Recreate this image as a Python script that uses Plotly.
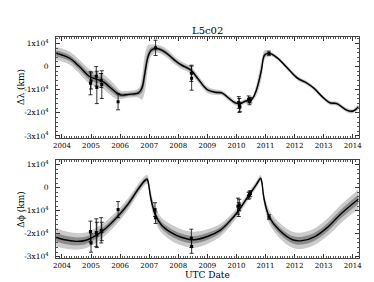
import plotly.graph_objects as go

# ---- data (km) ----
lam_t = [2003.8, 2004.0, 2004.27, 2004.6, 2004.95, 2005.17, 2005.4, 2005.62, 2005.85, 2006.02,
         2006.3, 2006.63, 2006.75, 2006.85, 2006.96, 2007.07, 2007.25, 2007.53, 2007.87, 2008.1,
         2008.43, 2008.66, 2009.0, 2009.28, 2009.5, 2009.73, 2009.96, 2010.13, 2010.3, 2010.52,
         2010.69, 2010.86, 2010.97, 2011.14, 2011.42, 2011.76, 2012.1, 2012.43, 2012.66, 2013.0,
         2013.22, 2013.45, 2013.79, 2014.0, 2014.2]
lam_v = [5700, 5000, 3600, 0, -4300, -5400, -6400, -8600, -11100, -12300,
         -12000, -11400, -9300, -2900, 4300, 7100, 7800, 6400, 2800, 700,
         -1500, -5000, -10000, -11100, -11400, -13600, -15700, -16000, -15000, -14300,
         -10000, -1500, 5000, 5700, 3600, -700, -5000, -7200, -9300, -13600,
         -15700, -16000, -18800, -19300, -17400]
lam_outer = [2800, 2800, 2800, 3000, 3200, 3200, 3200, 3200, 2800, 1800,
             1500, 2000, 5000, 8000, 5000, 2500, 1800, 1800, 1700, 1600,
             1600, 1600, 1400, 1200, 1100, 1100, 1100, 1000, 1000, 1000,
             2500, 4000, 2000, 900, 900, 900, 900, 900, 900, 900,
             900, 900, 900, 900, 1200]
lam_inner = [1300, 1300, 1300, 1400, 1500, 1500, 1500, 1500, 1300, 900,
             700, 900, 2000, 3500, 2000, 1100, 800, 800, 800, 700,
             700, 700, 600, 500, 500, 500, 500, 450, 450, 450,
             1000, 1500, 800, 450, 450, 450, 450, 450, 450, 450,
             450, 450, 450, 450, 550]

phi_t = [2003.8, 2004.05, 2004.5, 2004.83, 2005.17, 2005.5, 2005.95, 2006.28, 2006.62, 2006.84,
         2006.93, 2006.98, 2007.05, 2007.2, 2007.42, 2007.76, 2008.1, 2008.54, 2009.0, 2009.45,
         2009.9, 2010.12, 2010.46, 2010.69, 2010.83, 2010.88, 2010.94, 2011.13, 2011.47, 2011.93,
         2012.26, 2012.7, 2013.15, 2013.6, 2014.2]
phi_v = [-21500, -22500, -23300, -22800, -20700, -17700, -12000, -7000, -600, 3000,
         3700, 1500, -4100, -11300, -16200, -19500, -21500, -22600, -21200, -18400,
         -12700, -9100, -2700, 1500, 4100, 2000, -4100, -12700, -18400, -22600,
         -23000, -21200, -17000, -11300, -4900]
phi_outer = [4200, 3800, 3600, 3400, 3200, 3000, 2800, 2500, 2200, 2000,
             2000, 2500, 3000, 3200, 3300, 3500, 3500, 3500, 3200, 2800,
             2200, 1800, 1500, 1500, 1500, 2000, 2500, 3000, 3300, 3500,
             3600, 3600, 3800, 4000, 4200]
phi_inner = [1900, 1800, 1700, 1600, 1500, 1400, 1300, 1200, 1000, 900,
             900, 1100, 1300, 1400, 1500, 1600, 1600, 1600, 1500, 1300,
             1000, 800, 700, 700, 700, 900, 1100, 1300, 1500, 1600,
             1700, 1700, 1800, 1900, 2000]

lam_obs_t = [2004.98, 2005.0, 2005.18, 2005.2, 2005.35, 2005.37, 2005.93, 2007.22, 2008.45, 2008.46,
             2010.08, 2010.1, 2010.12, 2010.42, 2010.45, 2010.48, 2011.12]
lam_obs_v = [-7200, -6200, -4200, -9000, -6000, -7800, -15200, 8100, -2900, -5000,
             -15500, -16800, -17500, -14200, -15000, -14500, 5700]
lam_obs_e = [5000, 3500, 4200, 7000, 3000, 6000, 3500, 3300, 3500, 5200,
             2500, 3000, 2000, 1500, 1500, 1200, 1000]

phi_obs_t = [2004.98, 2005.0, 2005.18, 2005.2, 2005.35, 2005.37, 2005.93, 2007.2, 2007.22, 2008.45,
             2008.46, 2010.05, 2010.08, 2010.1, 2010.42, 2010.45, 2010.48, 2011.12]
phi_obs_v = [-19000, -24000, -19500, -20500, -18500, -19000, -9500, -9500, -13000, -22000,
             -25500, -8000, -9500, -7500, -3500, -3000, -2500, -12700]
phi_obs_e = [4500, 4000, 6000, 5500, 5500, 4000, 3500, 3000, 2500, 4000,
             3000, 3500, 3000, 2500, 1500, 1500, 1200, 1000]

year_ticks = list(range(2004, 2015))
y_tickvals = [10000, 0, -10000, -20000, -30000]
y_ticktext = ["1x10<sup>4</sup>", "0", "-1x10<sup>4</sup>", "-2x10<sup>4</sup>", "-3x10<sup>4</sup>"]

LIGHT = "#cbcbcb"
DARK = "#8c8c8c"
FONT = "DejaVu Serif"

fig = go.Figure()


def add_panel(t, v, outer, inner, ot, ov, oe, xa, ya):
    up_o = [a + b for a, b in zip(v, outer)]
    lo_o = [a - b for a, b in zip(v, outer)]
    up_i = [a + b for a, b in zip(v, inner)]
    lo_i = [a - b for a, b in zip(v, inner)]
    common = dict(xaxis=xa, yaxis=ya, showlegend=False, hoverinfo="skip")
    fig.add_trace(go.Scatter(x=t, y=up_o, mode="lines", line=dict(width=0, shape="spline", color=LIGHT), **common))
    fig.add_trace(go.Scatter(x=t, y=lo_o, mode="lines", line=dict(width=0, shape="spline", color=LIGHT),
                             fill="tonexty", fillcolor=LIGHT, **common))
    fig.add_trace(go.Scatter(x=t, y=up_i, mode="lines", line=dict(width=0, shape="spline", color=DARK), **common))
    fig.add_trace(go.Scatter(x=t, y=lo_i, mode="lines", line=dict(width=0, shape="spline", color=DARK),
                             fill="tonexty", fillcolor=DARK, **common))
    fig.add_trace(go.Scatter(x=t, y=v, mode="lines", line=dict(width=1.4, shape="spline", color="black"), **common))
    fig.add_trace(go.Scatter(x=ot, y=ov, mode="markers",
                             marker=dict(symbol="square", size=3, color="black"),
                             error_y=dict(type="data", array=oe, visible=True, color="black", thickness=0.8, width=2),
                             **common))


add_panel(lam_t, lam_v, lam_outer, lam_inner, lam_obs_t, lam_obs_v, lam_obs_e, "x", "y")
add_panel(phi_t, phi_v, phi_outer, phi_inner, phi_obs_t, phi_obs_v, phi_obs_e, "x2", "y2")

xcommon = dict(range=[2003.8, 2014.2], tickvals=year_ticks, ticks="inside", ticklen=4, tickcolor="#333",
               showline=True, linecolor="#444", linewidth=1, mirror="allticks", showgrid=False, zeroline=False,
               tickfont=dict(family=FONT, size=7, color="black"),
               minor=dict(dtick=1 / 12, ticks="inside", ticklen=2, tickcolor="#555", showgrid=False))
ycommon = dict(tickvals=y_tickvals, ticktext=y_ticktext, ticks="inside", ticklen=4, tickcolor="#333",
               showline=True, linecolor="#444", linewidth=1, mirror="allticks", showgrid=False, zeroline=False,
               tickfont=dict(family=FONT, size=7.5, color="black"), ticklabelstandoff=5,
               minor=dict(tickvals=list(range(-30000, 14000, 2000)), ticks="inside", ticklen=2,
                          tickcolor="#555", showgrid=False))

label_font = dict(family=FONT, size=9, color="black")

fig.update_layout(
    width=374, height=282,
    margin=dict(l=0, r=0, t=0, b=0),
    paper_bgcolor="white", plot_bgcolor="white",
    xaxis=dict(domain=[0.123, 0.947], anchor="y", **xcommon),
    yaxis=dict(domain=[0.535, 0.901], anchor="x", range=[-31000, 13000], **ycommon),
    xaxis2=dict(domain=[0.123, 0.947], anchor="y2",
                title=dict(text="UTC Date", font=label_font, standoff=2), **xcommon),
    yaxis2=dict(domain=[0.103, 0.457], anchor="x2", range=[-30700, 12100], **ycommon),
    annotations=[
        dict(text="L5c02", x=0.535, y=0.923, xref="paper", yref="paper", showarrow=False,
             xanchor="center", yanchor="middle", font=dict(family=FONT, size=10, color="black")),
        dict(text="Δλ (km)", x=0.029, y=0.718, xref="paper", yref="paper", showarrow=False,
             xanchor="center", yanchor="middle", textangle=-90, font=label_font),
        dict(text="Δϕ (km)", x=0.029, y=0.28, xref="paper", yref="paper", showarrow=False,
             xanchor="center", yanchor="middle", textangle=-90, font=label_font),
    ],
)

fig.write_html("out.html")
